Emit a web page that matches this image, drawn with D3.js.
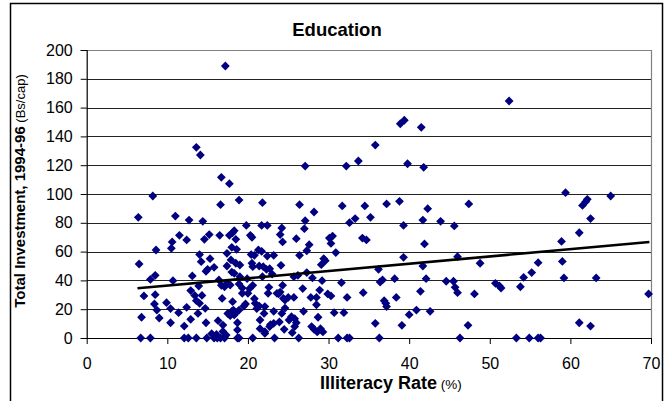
<!DOCTYPE html>
<html>
<head>
<meta charset="utf-8">
<script src="https://cdn.jsdelivr.net/npm/d3@7"></script>
<style>
  html, body { margin: 0; padding: 0; background: #fff; }
  svg { display: block; font-family: "Liberation Sans", Arial, sans-serif; }
</style>
</head>
<body>
<svg id="chart" width="669" height="401"></svg>
<script>
// Illiteracy rate (%) per municipality
const illiteracyRate = [
  6.7,7.9,12.1,12.6,13.6,14.9,15.8,16.2,16.6,17.1,18.7,18.9,20.6,23.3,26.3,31.2,32.3,32.6,36.3,46.3,53.3,54.9,56.0,56.3,
  15.5,16.1,16.9,17.3,
  17.2,52.4,38.9,39.4,41.5,13.6,14.1,35.8,33.7,39.8,32.2,41.8,
  6.4,6.5,6.8,7.1,7.9,8.5,8.6,8.2,8.4,8.5,8.7,9.0,9.9,10.4,10.4,10.5,10.6,10.7,
  11.0,11.4,11.5,12.1,12.4,12.4,12.7,12.9,12.9,13.1,13.4,13.6,13.8,13.9,14.0,14.2,14.3,14.0,14.4,14.6,14.8,14.8,15.0,15.2,15.3,15.8,
  16.3,16.5,16.6,16.4,16.7,16.7,17.1,17.4,17.7,17.7,18.0,18.0,18.1,18.3,18.1,18.2,17.5,17.8,18.0,18.3,18.5,18.5,18.5,18.6,18.7,18.7,
  18.9,18.9,19.0,19.0,19.3,19.3,19.5,19.7,18.9,19.8,19.9,20.0,20.2,20.3,20.5,20.4,20.5,20.6,20.6,20.8,20.8,20.9,
  21.1,21.3,21.4,21.4,21.5,21.7,21.7,21.8,21.8,21.9,22.0,22.1,22.1,22.3,22.4,22.4,22.5,22.6,22.7,23.0,23.2,23.2,22.8,23.8,
  24.0,24.1,24.2,24.3,24.3,24.2,24.0,23.9,24.5,24.6,25.0,25.1,25.5,25.7,25.7,25.8,26.0,26.0,26.2,26.4,26.4,26.8,26.9,27.0,
  27.1,27.1,27.3,27.6,27.8,28.0,28.2,28.2,28.5,28.5,28.6,28.7,28.9,29.0,29.1,29.2,29.3,29.4,29.6,29.9,30.1,30.3,30.3,30.5,30.7,30.9,
  31.6,31.7,31.9,32.3,32.6,33.3,34.2,34.3,34.5,34.7,35.2,35.8,36.2,36.4,36.7,36.9,37.1,37.2,37.2,38.2,38.4,38.8,39.1,39.3,39.3,40.0,
  40.9,41.4,41.7,41.7,41.9,42.1,42.3,42.6,43.9,44.6,45.5,45.6,45.7,46.0,46.0,47.3,47.4,48.1,48.8,
  50.7,51.2,51.4,53.8,54.2,55.2,56.0,58.9,59.0,59.2,59.4,61.1,61.1,61.5,61.9,62.1,62.5,62.5,63.2,65.0,69.7,
  27.3,22.7,23.2,22.1,25.4,25.8,27.9,21.5,24.4,24.6,23.6,17.4,17.8,17.4,18.3,17.9,16.8,16.9,14.7
];

// Total education investment 1994-96 (Bs per capita), same order
const investment = [
  0,0,0,0,0,0,0,0,0,0,0,0,0,0,0,0,0,0,0,0,0,0,0,0,
  3,2.5,4.5,2,
  188.9,164.6,148.8,151.2,146.3,132.4,127.1,134,122.9,121,119.4,118.5,
  83.8,51.4,14.4,29.2,40.7,43.5,61.1,98.6,23.6,30.1,19.4,13.9,24.5,20.4,10.6,62.3,66.7,39.8,
  84.7,17.6,71.3,8.3,68.1,21.3,81.9,13,32.9,43.1,29.6,25.9,17.1,36.1,57.9,53,29.6,24.1,81,68.5,10.6,46.3,47.7,71.8,55.1,49.1,
  12,71.3,92.6,40.3,36.6,111.6,35.6,58.8,107.2,71.3,63,45.8,73.1,74.5,25.2,19.4,17,15.5,18.5,16,17.5,51.9,68.5,61.6,10.6,5.6,
  95.8,37.5,50.7,42.6,31,34.7,22.2,23.6,19.4,78.2,41.2,31,34.3,71.3,69.9,57.9,51.9,49.5,36.6,57.4,27.3,24.1,
  20.4,61.1,50,22.2,6.5,60.2,78.2,94,42.6,49.5,17.1,21.8,3.2,47.7,78.2,56.9,31,35.2,48.1,44.4,18.5,57.4,9.3,30.6,
  71.8,50.5,76.4,66.7,36.6,17.1,31.9,11.1,6,20.8,28.2,12.5,3.7,28.2,42.6,13.4,69,10.6,43.5,92.6,57.4,34.3,18.5,75.9,
  81.5,119.4,60.6,64.8,28.2,41.7,87.5,6,28.2,23.1,4.2,14.4,33.3,6.5,50.9,39.8,4.2,55.1,53.7,30.6,69.4,29.2,65.7,70.8,17.6,59.3,
  38.4,91.7,17.6,28.2,80.1,82.9,69.4,31.5,91.7,68.1,83.8,10.2,47.7,38.9,40.3,25.9,24.1,93.1,21.8,41.2,28.2,94.9,8.8,78.2,56,16.2,
  19.4,32.4,81.9,50,65.3,41.2,89.8,18.5,81,39.4,39.4,77.8,35.2,31.5,56.5,8.8,93.1,30.6,51.9,
  38,36.1,34.7,35.6,42.1,45.4,52.3,67.1,53.2,41.7,100.9,73.1,10.6,92.1,94.7,96.3,82.9,8.3,41.7,98.6,30.6,
  45.4,7.9,10.2,4.4,14.8,7.9,7.9,12.5,27.5,26.4,31,38,36.8,50,44.9,54.2,27.5,9,20.6
];

// Axis ticks
const xTicks = [0, 10, 20, 30, 40, 50, 60, 70];
const yTicks = [0, 20, 40, 60, 80, 100, 120, 140, 160, 180, 200];

// Linear trend line end points (illiteracy %, Bs/cap)
const trendX = [6.3, 69.8];
const trendY = [34.5, 66.7];

const svg = d3.select("#chart");
const W = 669, H = 401;
const plot = { left: 86.7, right: 651, top: 50, bottom: 338 };

const x = d3.scaleLinear().domain([0, 70]).range([plot.left, plot.right]);
const y = d3.scaleLinear().domain([0, 200]).range([plot.bottom, plot.top]);

svg.append("rect").attr("width", W).attr("height", H).attr("fill", "#fff");

// Outer chart frame
svg.append("rect")
  .attr("x", 10.5).attr("y", 3.5)
  .attr("width", 652).attr("height", 420)
  .attr("fill", "none").attr("stroke", "#000").attr("stroke-width", 1.5);

// Horizontal gridlines
svg.append("g")
  .selectAll("line")
  .data(yTicks.filter(d => d > 0 && d < 200))
  .join("line")
  .attr("x1", plot.left).attr("x2", plot.right)
  .attr("y1", d => Math.round(y(d)) + 0.5).attr("y2", d => Math.round(y(d)) + 0.5)
  .attr("stroke", "#222").attr("stroke-width", 1.1);

// Plot area border (top and right)
svg.append("path")
  .attr("d", `M${plot.left},${plot.top + 0.5}H${plot.right + 0.5}V${plot.bottom}`)
  .attr("fill", "none").attr("stroke", "#808080").attr("stroke-width", 1.2);

// Axes
const yAxis = d3.axisLeft(y).tickValues(yTicks).tickSize(6).tickPadding(8).tickFormat(d3.format("d"));
const xAxis = d3.axisBottom(x).tickValues(xTicks).tickSize(6).tickPadding(14).tickFormat(d3.format("d"));

const gy = svg.append("g").attr("transform", `translate(${plot.left},0)`).call(yAxis);
const gx = svg.append("g").attr("transform", `translate(0,${plot.bottom})`).call(xAxis);

[gx, gy].forEach(g => {
  g.select(".domain").attr("stroke", "#000").attr("stroke-width", 1.2);
  g.selectAll(".tick line").attr("stroke", "#000");
  g.selectAll(".tick text")
    .attr("fill", "#000")
    .style("font-family", "'Liberation Sans', Arial, sans-serif")
    .style("font-size", "16px");
});
gx.select(".domain").attr("d", `M${plot.left},0.5H${plot.right}`);

// Scatter markers (diamonds)
const r = 4.4;
const diamond = `M0,${-r}L${r},0L0,${r}L${-r},0Z`;
svg.append("g")
  .selectAll("path")
  .data(d3.zip(illiteracyRate, investment))
  .join("path")
  .attr("d", diamond)
  .attr("transform", d => `translate(${x(d[0])},${y(d[1])})`)
  .attr("fill", "#000080");

// Trend line
svg.append("line")
  .attr("x1", x(trendX[0])).attr("y1", y(trendY[0]))
  .attr("x2", x(trendX[1])).attr("y2", y(trendY[1]))
  .attr("stroke", "#000").attr("stroke-width", 2.6);

// Title
svg.append("text")
  .attr("x", 337).attr("y", 36)
  .attr("text-anchor", "middle")
  .style("font-size", "18.5px").style("font-weight", "bold")
  .text("Education");

// X axis title
const xt = svg.append("text").attr("x", 320).attr("y", 388.5);
xt.append("tspan").style("font-size", "18px").style("font-weight", "bold").text("Illiteracy Rate");
xt.append("tspan").style("font-size", "13.5px").text(" (%)");

// Y axis title
const yt = svg.append("text")
  .attr("transform", "translate(25,191) rotate(-90)")
  .attr("text-anchor", "middle");
yt.append("tspan").style("font-size", "15px").style("font-weight", "bold").text("Total Investment, 1994-96");
yt.append("tspan").style("font-size", "13px").text(" (Bs/cap)");
</script>
</body>
</html>
